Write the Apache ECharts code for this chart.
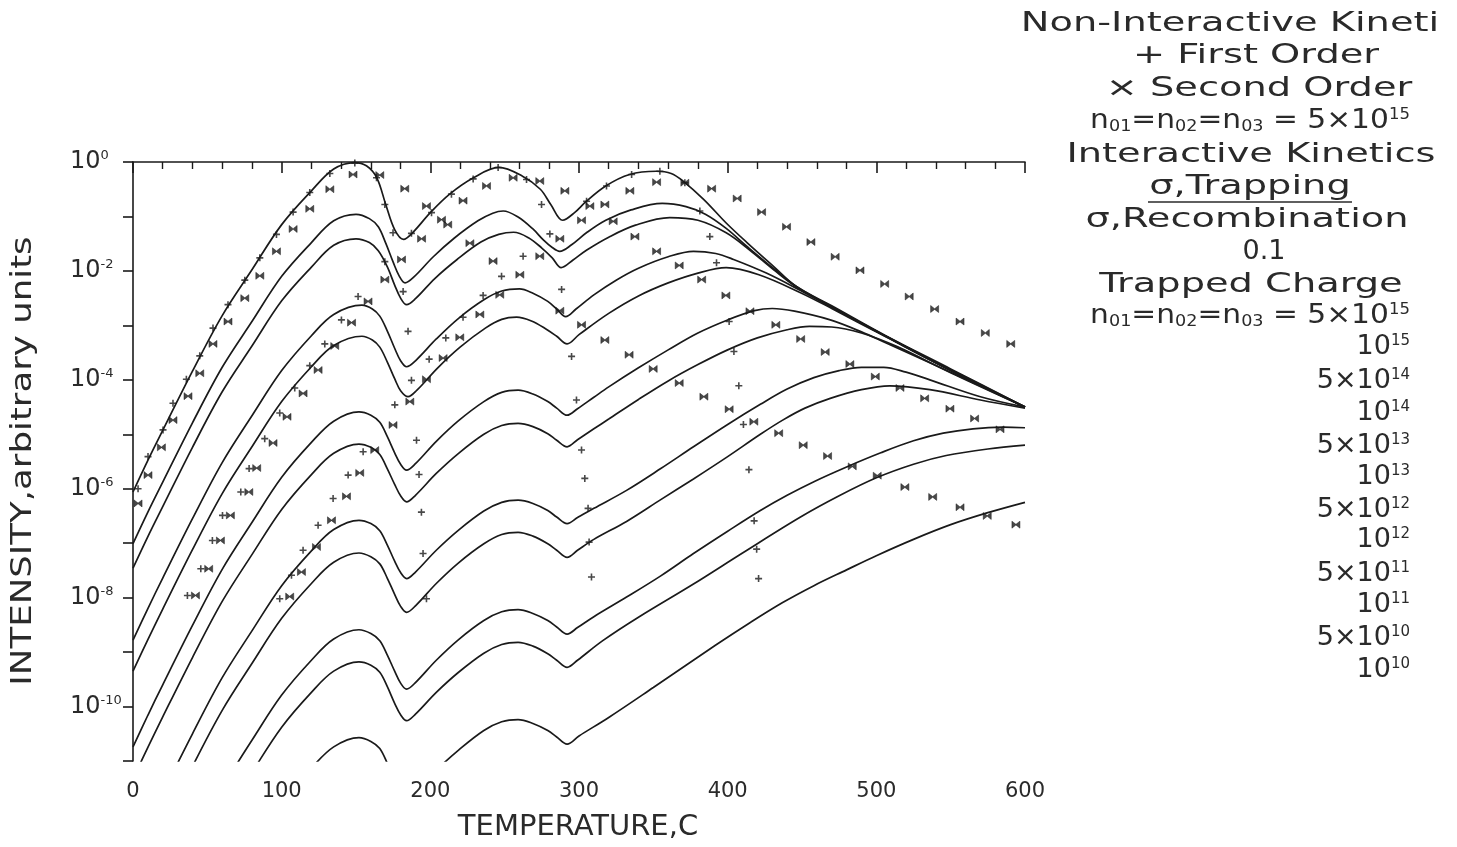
<!DOCTYPE html>
<html>
<head>
<meta charset="utf-8">
<script src="https://cdn.jsdelivr.net/npm/echarts/dist/echarts.min.js"></script>
<style>
html,body{margin:0;padding:0;background:#fff;}
#chart{width:1457px;height:847px;}
</style>
</head>
<body>
<div id="chart"></div>
<script>
// Temperature (C) vs log10(intensity, arbitrary units).
// Interactive kinetics curves, one per trapped charge n01=n02=n03.
const curve5e15 = [[0,-6.06],[10,-5.48],[20,-4.93],[40,-3.84],[60,-2.82],[80,-1.98],[100,-1.15],[120,-0.53],[135,-0.13],[149,-0.01],[157,-0.07],[164,-0.29],[170,-0.78],[176,-1.24],[182,-1.42],[188,-1.30],[200,-0.93],[213,-0.59],[229,-0.29],[246,-0.10],[262,-0.26],[274,-0.50],[281,-0.78],[289,-1.07],[297,-0.93],[305,-0.72],[318,-0.44],[334,-0.23],[352,-0.17],[362,-0.21],[370,-0.35],[384,-0.69],[399,-1.12],[413,-1.48],[431,-1.92],[446,-2.28],[470,-2.64],[507,-3.2],[550,-3.8],[600,-4.5]];
const curve1e15 = [[0,-7.01],[10,-6.43],[20,-5.88],[40,-4.79],[60,-3.77],[80,-2.93],[100,-2.10],[120,-1.48],[135,-1.08],[150,-0.96],[159,-1.04],[165,-1.19],[170,-1.49],[175,-1.84],[179,-2.09],[183,-2.22],[189,-2.11],[202,-1.74],[216,-1.40],[232,-1.08],[242,-0.94],[249,-0.90],[259,-1.01],[269,-1.23],[276,-1.43],[282,-1.57],[287,-1.64],[295,-1.52],[305,-1.3],[318,-1.07],[335,-0.88],[356,-0.76],[372,-0.82],[385,-0.96],[399,-1.22],[413,-1.55],[431,-1.96],[447,-2.3],[470,-2.66],[507,-3.21],[550,-3.83],[600,-4.5]];
const curve5e14 = [[0,-7.46],[10,-6.88],[20,-6.33],[40,-5.24],[60,-4.22],[80,-3.38],[100,-2.55],[120,-1.93],[135,-1.53],[150,-1.41],[159,-1.48],[165,-1.63],[171,-1.92],[176,-2.26],[180,-2.50],[184,-2.62],[190,-2.51],[203,-2.14],[218,-1.79],[234,-1.47],[246,-1.33],[256,-1.29],[266,-1.39],[275,-1.58],[282,-1.76],[288,-1.94],[296,-1.8],[305,-1.62],[320,-1.38],[338,-1.16],[361,-1.02],[380,-1.07],[399,-1.3],[415,-1.62],[431,-1.98],[448,-2.33],[470,-2.66],[507,-3.21],[550,-3.82],[600,-4.5]];
const curve1e14 = [[0,-8.78],[10,-8.20],[20,-7.64],[40,-6.55],[60,-5.52],[80,-4.66],[100,-3.83],[120,-3.19],[135,-2.80],[154,-2.63],[161,-2.70],[166,-2.83],[171,-3.10],[176,-3.42],[180,-3.65],[184,-3.76],[190,-3.65],[204,-3.25],[219,-2.87],[236,-2.53],[248,-2.37],[260,-2.33],[269,-2.41],[279,-2.56],[285,-2.70],[291,-2.84],[298,-2.7],[310,-2.44],[325,-2.17],[340,-1.95],[360,-1.74],[377,-1.64],[392,-1.68],[404,-1.79],[426,-2.04],[449,-2.36],[470,-2.67],[507,-3.21],[550,-3.82],[600,-4.5]];
const curve5e13 = [[0,-9.35],[10,-8.77],[20,-8.21],[40,-7.12],[60,-6.09],[80,-5.23],[100,-4.40],[120,-3.76],[135,-3.37],[154,-3.20],[161,-3.27],[166,-3.40],[171,-3.67],[176,-3.98],[180,-4.20],[185,-4.31],[191,-4.19],[205,-3.78],[220,-3.40],[237,-3.05],[248,-2.89],[258,-2.85],[268,-2.92],[278,-3.07],[285,-3.20],[292,-3.34],[300,-3.17],[320,-2.78],[340,-2.46],[360,-2.22],[380,-2.04],[399,-1.94],[421,-2.07],[449,-2.4],[470,-2.69],[507,-3.22],[550,-3.83],[600,-4.5]];
const curve1e13 = [[0,-10.74],[10,-10.16],[20,-9.60],[40,-8.51],[60,-7.48],[80,-6.62],[100,-5.79],[120,-5.15],[135,-4.76],[152,-4.59],[160,-4.65],[166,-4.78],[171,-5.04],[176,-5.34],[180,-5.55],[184,-5.66],[190,-5.54],[204,-5.13],[219,-4.75],[236,-4.40],[248,-4.23],[259,-4.19],[269,-4.26],[279,-4.40],[285,-4.52],[292,-4.65],[299,-4.53],[310,-4.32],[320,-4.13],[340,-3.78],[360,-3.45],[380,-3.14],[400,-2.90],[418,-2.73],[430,-2.69],[445,-2.74],[469,-2.9],[490,-3.12],[507,-3.33],[550,-3.86],[600,-4.5]];
const curve5e12 = [[0,-11.33],[10,-10.75],[20,-10.19],[40,-9.10],[60,-8.07],[80,-7.21],[100,-6.38],[120,-5.74],[135,-5.35],[152,-5.18],[160,-5.24],[166,-5.37],[171,-5.63],[176,-5.92],[180,-6.13],[184,-6.24],[190,-6.12],[204,-5.72],[219,-5.35],[236,-5.00],[248,-4.84],[259,-4.80],[269,-4.86],[279,-4.99],[285,-5.11],[292,-5.23],[299,-5.1],[310,-4.9],[320,-4.72],[340,-4.36],[360,-4.02],[380,-3.72],[400,-3.45],[420,-3.23],[440,-3.08],[455,-3.02],[470,-3.03],[490,-3.14],[514,-3.39],[550,-3.87],[600,-4.5]];
const curve1e12 = [[20,-11.59],[40,-10.50],[60,-9.47],[80,-8.61],[100,-7.78],[120,-7.14],[135,-6.75],[152,-6.58],[160,-6.64],[166,-6.77],[171,-7.03],[176,-7.33],[180,-7.54],[184,-7.65],[190,-7.53],[204,-7.13],[219,-6.76],[236,-6.41],[248,-6.25],[259,-6.21],[269,-6.27],[279,-6.40],[285,-6.52],[292,-6.64],[299,-6.53],[310,-6.36],[332,-6.03],[355,-5.63],[377,-5.23],[400,-4.82],[422,-4.45],[440,-4.17],[458,-3.96],[475,-3.83],[490,-3.77],[505,-3.77],[520,-3.86],[536,-4.0],[570,-4.31],[600,-4.5]];
const curve5e11 = [[40,-11.10],[60,-10.07],[80,-9.21],[100,-8.38],[120,-7.74],[135,-7.35],[152,-7.18],[160,-7.25],[166,-7.38],[171,-7.64],[176,-7.94],[180,-8.16],[184,-8.27],[190,-8.15],[204,-7.74],[219,-7.36],[236,-7.01],[248,-6.84],[259,-6.80],[269,-6.87],[279,-7.01],[285,-7.13],[292,-7.26],[299,-7.13],[310,-6.93],[332,-6.6],[355,-6.2],[377,-5.82],[400,-5.41],[422,-5.0],[437,-4.74],[452,-4.52],[469,-4.34],[490,-4.18],[509,-4.11],[536,-4.18],[570,-4.37],[600,-4.52]];
const curve1e11 = [[60,-11.48],[80,-10.62],[100,-9.79],[120,-9.15],[135,-8.76],[152,-8.59],[160,-8.66],[166,-8.79],[171,-9.05],[176,-9.35],[180,-9.57],[184,-9.68],[190,-9.56],[204,-9.15],[219,-8.77],[236,-8.42],[248,-8.26],[259,-8.22],[269,-8.29],[279,-8.42],[285,-8.54],[292,-8.67],[299,-8.55],[310,-8.35],[332,-7.99],[355,-7.6],[377,-7.19],[400,-6.78],[422,-6.40],[440,-6.12],[458,-5.87],[480,-5.6],[503,-5.34],[525,-5.12],[545,-4.98],[565,-4.90],[585,-4.87],[600,-4.88]];
const curve5e10 = [[60,-12.07],[80,-11.21],[100,-10.38],[120,-9.74],[135,-9.35],[152,-9.18],[160,-9.24],[166,-9.37],[171,-9.63],[176,-9.94],[180,-10.15],[184,-10.26],[190,-10.14],[204,-9.74],[219,-9.37],[236,-9.02],[248,-8.86],[259,-8.82],[269,-8.89],[279,-9.03],[285,-9.15],[292,-9.28],[299,-9.15],[316,-8.79],[340,-8.36],[377,-7.75],[410,-7.18],[449,-6.52],[475,-6.13],[500,-5.80],[525,-5.55],[547,-5.39],[575,-5.27],[600,-5.2]];
const curve1e10 = [[100,-11.77],[120,-11.13],[135,-10.74],[152,-10.57],[160,-10.64],[166,-10.77],[171,-11.04],[176,-11.36],[180,-11.59],[184,-11.70],[190,-11.58],[204,-11.17],[219,-10.80],[236,-10.44],[248,-10.28],[259,-10.24],[269,-10.31],[279,-10.44],[285,-10.56],[292,-10.69],[300,-10.54],[320,-10.2],[350,-9.65],[392,-8.87],[415,-8.46],[437,-8.09],[458,-7.78],[480,-7.49],[500,-7.23],[525,-6.93],[550,-6.66],[575,-6.44],[600,-6.25]];

// Non-interactive kinetics points (n0 = 5e15): first order (+)
const firstOrder = [
[3.4,-6.00],[10.1,-5.41],[20.2,-4.92],[26.9,-4.43],[35.9,-3.99],[44.9,-3.56],[53.8,-3.05],[63.9,-2.62],[75.2,-2.17],[85.3,-1.76],[96.5,-1.33],[107.7,-0.92],[118.9,-0.56],[132.4,-0.21],[149.2,-0.02],
[163.8,-0.29],[169.4,-0.78],[174.9,-1.30],[181.7,-2.38],[185.0,-3.11],[190.7,-5.11],[192.4,-5.74],[194.0,-6.43],[195.1,-7.19],[197.4,-8.02],
[36.6,-7.96],[45.6,-7.47],[53.4,-6.95],[60.2,-6.49],[72.5,-6.06],[78.1,-5.63],[88.6,-5.08],[98.7,-4.61],[108.8,-4.15],[118.9,-3.74],[129.0,-3.34],[140.2,-2.90],[151.4,-2.47],[169.4,-1.83],[187.3,-1.31],[200.8,-0.93],[214.2,-0.59],[228.8,-0.31],[245.6,-0.10],[264.7,-0.32],[274.8,-0.78],[280.4,-1.32],[288.3,-2.34],[295.0,-3.57],[298.3,-4.37],[301.7,-5.29],[303.9,-5.81],[306.1,-6.36],[306.8,-6.98],[308.4,-7.62],
[98.7,-8.02],[106.6,-7.59],[114.4,-7.13],[124.5,-6.67],[134.6,-6.18],[144.7,-5.75],[154.8,-5.32],[176.1,-4.46],[187.3,-4.01],[199.2,-3.62],[210.4,-3.23],[222.0,-2.85],[235.5,-2.45],[247.9,-2.10],[262.4,-1.73],[305.1,-0.72],[318.5,-0.44],[335.4,-0.23],[354.4,-0.17],[371.2,-0.38],[381.3,-0.90],[388.0,-1.37],[392.5,-1.85],[401.0,-2.93],[404.2,-3.48],[407.5,-4.11],[410.6,-4.82],[414.3,-5.65],[417.8,-6.59],[419.5,-7.11],[420.8,-7.65]
];
// second order (x)
const secondOrder = [
[3.4,-6.27],[10.1,-5.75],[19.1,-5.24],[26.9,-4.74],[37,-4.30],[44.9,-3.88],[53.8,-3.34],[63.9,-2.93],[75.2,-2.50],[85.3,-2.09],[96.5,-1.64],[107.7,-1.23],[118.9,-0.86],[132.4,-0.50],[148,-0.23],
[166.0,-0.24],[182.8,-0.49],[197.4,-0.81],[211.7,-1.15],[226.6,-1.49],[242.2,-1.82],[287.1,-2.73],[301.7,-2.99],[317.4,-3.27],[333.7,-3.54],[349.9,-3.80],[367.4,-4.06],[384.0,-4.31],[401.0,-4.54],[417.6,-4.77],[434.3,-4.98],[450.8,-5.20],[467.2,-5.40],[483.8,-5.59],[500.6,-5.76],[519.2,-5.97],[537.9,-6.15],[556.3,-6.34],[574.6,-6.50],[593.9,-6.66],
[42.0,-7.96],[50.9,-7.47],[58.8,-6.95],[65.5,-6.49],[77.9,-6.06],[83.2,-5.62],[94.2,-5.16],[103.6,-4.68],[114.4,-4.25],[124.5,-3.82],[135.7,-3.38],[147.0,-2.95],[158.1,-2.56],[169.4,-2.16],[180.6,-1.79],[194.1,-1.41],[207.5,-1.06],[222.0,-0.71],[237.8,-0.44],[255.7,-0.29],[273.6,-0.35],[290.5,-0.53],[307.3,-0.81],[323.0,-1.09],[337.6,-1.37],[352.2,-1.64],[367.4,-1.90],[382.5,-2.16],[398.8,-2.45],[415.0,-2.74],[432.4,-2.99],[449.1,-3.25],[465.6,-3.49],[482.2,-3.71],[499.3,-3.94],[515.9,-4.15],[532.5,-4.34],[549.5,-4.53],[566.1,-4.71],[583.2,-4.91],
[105.4,-7.98],[113.3,-7.53],[123.4,-7.07],[133.5,-6.58],[143.6,-6.14],[152.5,-5.71],[162.6,-5.29],[174.9,-4.83],[186.2,-4.40],[197.4,-3.99],[208.6,-3.60],[219.8,-3.22],[233.3,-2.80],[246.7,-2.44],[260.2,-2.07],[273.6,-1.73],[287.1,-1.41],[301.7,-1.07],[317.4,-0.78],[334.2,-0.53],[352.2,-0.37],[371.2,-0.38],[389.2,-0.49],[406.4,-0.67],[422.8,-0.92],[439.6,-1.19],[456.0,-1.47],[472.3,-1.74],[489.0,-1.99],[505.6,-2.24],[522.1,-2.47],[539.2,-2.70],[556.3,-2.93],[573.3,-3.14],[590.4,-3.34]
];

const xTicks = [0,100,200,300,400,500,600];
const yExponents = [0,-2,-4,-6,-8,-10];
const curveNames = ['5x10^15','10^15','5x10^14','10^14','5x10^13','10^13','5x10^12','10^12','5x10^11','10^11','5x10^10','10^10'];
const curves = [curve5e15,curve1e15,curve5e14,curve1e14,curve5e13,curve1e13,curve5e12,curve1e12,curve5e11,curve1e11,curve5e10,curve1e10];

const F = 'DejaVu Sans';
const INK = '#1a1a1a';
const TXT = '#2a2a2a';
const chart = echarts.init(document.getElementById('chart'), null, {renderer:'canvas', width:1457, height:847});

const series = curves.map((c,i)=>({
  name: curveNames[i], type:'line', data:c, smooth:0.35, showSymbol:false, clip:true,
  lineStyle:{color:INK,width:1.7}, silent:true, z:2
}));
series.push({name:'First Order', type:'scatter', data:firstOrder, symbol:'path://M0,5L10,5M5,0L5,10', symbolSize:7,
  itemStyle:{color:INK,borderColor:INK,borderWidth:1.6}, z:3});
series.push({name:'Second Order', type:'scatter', data:secondOrder, symbol:'path://M0,0L5,3.6L10,0L10,8L5,4.4L0,8Z', symbolSize:[8,7],
  itemStyle:{color:INK,borderColor:INK,borderWidth:0.6}, z:3});

const legendLines = [
  {text:'Non-Interactive Kineti', x:1230, y:24},
  {text:'+ First Order', x:1256, y:56},
  {text:'× Second Order', x:1259, y:89},
  {text:'{t|n}{sb|01}{t|=n}{sb|02}{t|=n}{sb|03}{t| = 5×10}{sp|15}', x:1250, y:121, sx:1.1},
  {text:'Interactive Kinetics', x:1251, y:155},
  {text:'σ,Trapping', x:1250, y:187},
  {text:'σ,Recombination', x:1247, y:220},
  {text:'0.1', x:1264, y:252, sx:1.0},
  {text:'Trapped Charge', x:1251, y:285},
  {text:'{t|n}{sb|01}{t|=n}{sb|02}{t|=n}{sb|03}{t| = 5×10}{sp|15}', x:1250, y:316, sx:1.1}
];
const chargeLabels = [
  ['{t|10}{sp|15}',347],['{t|5×10}{sp|14}',381],['{t|10}{sp|14}',413],['{t|5×10}{sp|13}',446],
  ['{t|10}{sp|13}',477],['{t|5×10}{sp|12}',510],['{t|10}{sp|12}',540],['{t|5×10}{sp|11}',574],
  ['{t|10}{sp|11}',605],['{t|5×10}{sp|10}',638],['{t|10}{sp|10}',670]
];
const rich = {
  t:{fontFamily:F,fontSize:27,fill:TXT,color:TXT},
  sb:{fontFamily:F,fontSize:16,fill:TXT,color:TXT,verticalAlign:'bottom',padding:[10,0,0,0]},
  sp:{fontFamily:F,fontSize:15,fill:TXT,color:TXT,verticalAlign:'top',padding:[0,0,12,0]}
};
const graphics = [];
legendLines.forEach(l=>{
  graphics.push({type:'text', x:l.x, y:l.y, scaleX:l.sx||1.42, silent:true,
    style:{text:l.text.indexOf('{')===0?l.text:'{t|'+l.text+'}', x:0, y:0, align:'center', verticalAlign:'middle', rich:rich, fill:TXT}});
});
chargeLabels.forEach(l=>{
  graphics.push({type:'text', x:1410, y:l[1], silent:true,
    style:{text:l[0], x:0, y:0, align:'right', verticalAlign:'middle', rich:rich, fill:TXT}});
});
graphics.push({type:'line', silent:true, shape:{x1:1148,y1:202,x2:1352,y2:202}, style:{stroke:TXT,lineWidth:1.5}});
graphics.push({type:'text', x:24, y:461, rotation:Math.PI/2, scaleX:1.27, silent:true,
  style:{text:'INTENSITY,arbitrary units', x:0, y:0, align:'center', verticalAlign:'middle', font:'28px "DejaVu Sans"', fill:TXT}});
graphics.push({type:'text', x:578, y:827, silent:true,
  style:{text:'TEMPERATURE,C', x:0, y:0, align:'center', verticalAlign:'middle', font:'29px "DejaVu Sans"', fill:TXT}});

chart.setOption({
  animation:false,
  backgroundColor:'#fff',
  grid:{left:133, right:432, top:162, bottom:86, containLabel:false, outerBoundsMode:'none'},
  xAxis:{type:'value', min:0, max:600, interval:100,
    axisLine:{lineStyle:{color:INK,width:1.6}},
    axisTick:{show:true, length:11, lineStyle:{color:INK,width:1.6}},
    minorTick:{show:true, splitNumber:5, length:7, lineStyle:{color:INK,width:1.4}},
    splitLine:{show:false},
    axisLabel:{margin:20, fontFamily:F, fontSize:21, color:TXT, formatter:v=>xTicks.indexOf(v)>=0?String(v):''}
  },
  yAxis:{type:'value', min:-11, max:0, interval:1,
    axisLine:{show:true, lineStyle:{color:INK,width:1.6}},
    axisTick:{show:true, length:10, lineStyle:{color:INK,width:1.6}},
    splitLine:{show:false},
    axisLabel:{align:'left', margin:63, color:TXT,
      formatter:v=>yExponents.indexOf(v)>=0?('{b|10}{s|'+v+'}'):'',
      rich:{b:{fontFamily:F,fontSize:24,color:TXT}, s:{fontFamily:F,fontSize:13,color:TXT,verticalAlign:'top',padding:[0,0,12,0]}}}
  },
  graphic:graphics,
  series:series
});
</script>
</body>
</html>
